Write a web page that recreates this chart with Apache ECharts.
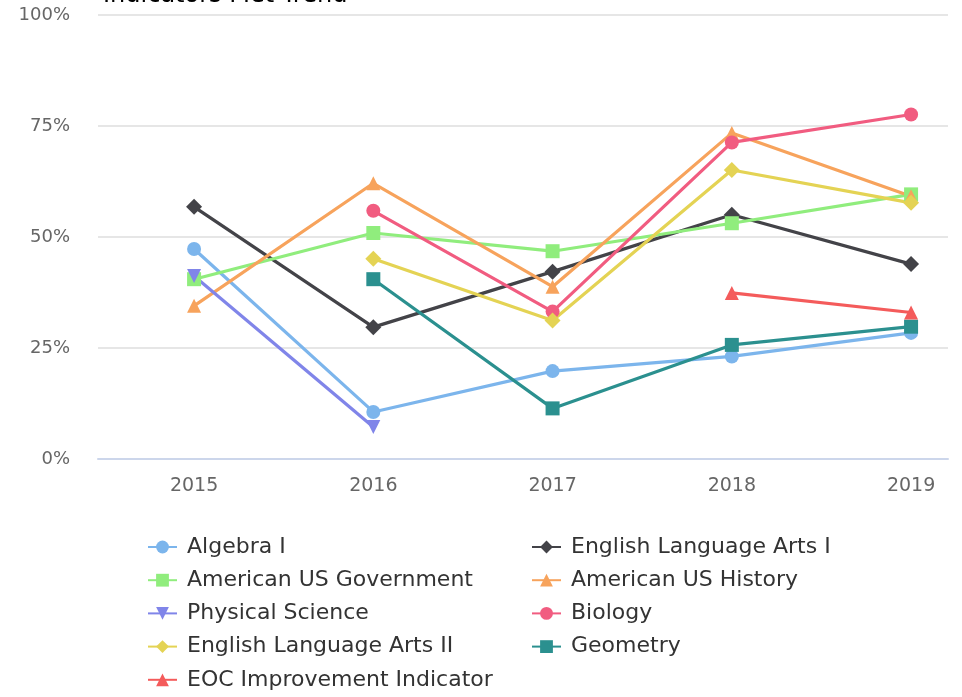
<!DOCTYPE html>
<html>
<head>
    <meta charset="utf-8">
    <title>Indicators Met Trend</title>
    <script src="https://cdn.jsdelivr.net/npm/echarts@6/dist/echarts.min.js"></script>
    <style>
        html, body { margin: 0; padding: 0; background: #fff; }
    </style>
</head>
<body>
    <div id="main" style="width: 962px;height:697px;"></div>
    <script type="text/javascript">
        // data (percent met), null = no value that year
        var years = [2015, 2016, 2017, 2018, 2019];
        var yTicks = [0, 25, 50, 75, 100];

        var algebra1 = [47.3, 10.6, 19.8, 23.1, 28.4];
        var ela1 = [56.8, 29.7, 42.2, 55.0, 43.9];
        var usGov = [40.5, 50.9, 46.8, 53.1, 59.6];
        var usHistory = [34.5, 62.1, 38.8, 73.4, 59.2];
        var physScience = [41.2, 7.2, null, null, null];
        var biology = [null, 55.9, 33.2, 71.3, 77.6];
        var ela2 = [null, 45.1, 31.2, 65.1, 57.7];
        var geometry = [null, 40.5, 11.4, 25.7, 29.8];
        var eocImprovement = [null, null, null, 37.4, 33.0];

        var myChart = echarts.init(document.getElementById('main'));
        var font = 'DejaVu Sans';

        // one line series per subject
        function makeSeries(name, values, color, symbol, rotate) {
            var pts = [];
            for (var i = 0; i < years.length; i++) {
                if (values[i] !== null) pts.push([years[i], values[i]]);
            }
            return {
                name: name,
                type: 'line',
                data: pts,
                color: color,
                symbol: symbol,
                symbolRotate: rotate || 0,
                symbolSize: symbol === 'diamond' ? 16 : 14,
                lineStyle: { width: 3.2, color: color },
                itemStyle: { color: color },
                emphasis: { disabled: true },
                animation: false
            };
        }

        var series = [
            makeSeries('Algebra I', algebra1, '#7cb5ec', 'circle'),
            makeSeries('English Language Arts I', ela1, '#434348', 'diamond'),
            makeSeries('American US Government', usGov, '#90ed7d', 'rect'),
            makeSeries('American US History', usHistory, '#f7a35c', 'triangle'),
            makeSeries('Physical Science', physScience, '#8085e9', 'triangle', 180),
            makeSeries('Biology', biology, '#f15c80', 'circle'),
            makeSeries('English Language Arts II', ela2, '#e4d354', 'diamond'),
            makeSeries('Geometry', geometry, '#2b908f', 'rect'),
            makeSeries('EOC Improvement Indicator', eocImprovement, '#f45b5b', 'triangle')
        ];

        var legendBase = {
            orient: 'vertical',
            top: 536,
            height: 161,
            padding: 0,
            itemWidth: 29,
            itemHeight: 16,
            itemGap: 11.2,
            selectedMode: false,
            textStyle: { fontFamily: font, fontSize: 22, color: '#333', padding: [0, 0, 0, 5] }
        };

        var option = {
            backgroundColor: '#fff',
            title: {
                text: 'Indicators Met Trend',
                left: 98,
                top: -21,
                textStyle: { fontFamily: font, fontSize: 24, fontWeight: 'normal', color: '#000' }
            },
            grid: { left: 98, right: 14, top: 15, bottom: 238 },
            legend: [
                Object.assign({}, legendBase, {
                    left: 147,
                    data: ['Algebra I', 'American US Government', 'Physical Science', 'English Language Arts II', 'EOC Improvement Indicator']
                }),
                Object.assign({}, legendBase, {
                    left: 531,
                    data: ['English Language Arts I', 'American US History', 'Biology', 'Geometry']
                })
            ],
            xAxis: {
                type: 'value',
                min: 2014.464,
                max: 2019.206,
                axisLine: { show: true, lineStyle: { color: '#ccd6eb', width: 2 } },
                axisTick: { show: false },
                splitLine: { show: false },
                axisLabel: {
                    customValues: years,
                    formatter: function (v) { return String(v); },
                    margin: 18,
                    fontFamily: font,
                    fontSize: 19,
                    color: '#666'
                }
            },
            yAxis: {
                type: 'value',
                min: yTicks[0],
                max: yTicks[yTicks.length - 1],
                interval: 25,
                axisLine: { show: false },
                axisTick: { show: false },
                splitLine: { lineStyle: { color: '#e6e6e6', width: 2 } },
                axisLabel: {
                    formatter: '{value}%',
                    margin: 28,
                    fontFamily: font,
                    fontSize: 18,
                    color: '#666'
                }
            },
            series: series
        };

        myChart.setOption(option);
    </script>
</body>
</html>
